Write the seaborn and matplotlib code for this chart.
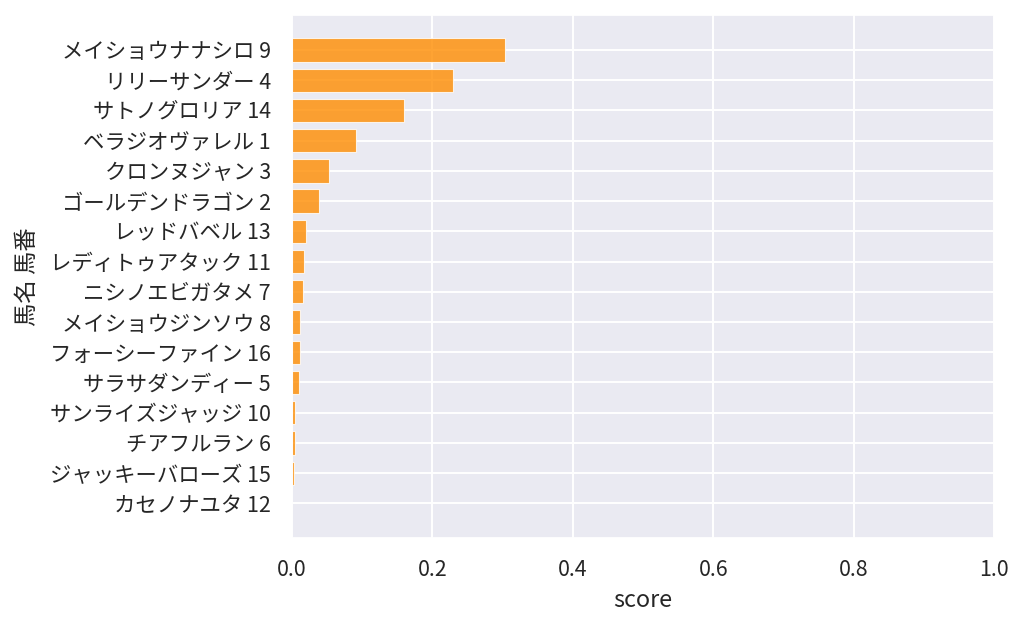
import matplotlib
matplotlib.use("Agg")
import matplotlib.pyplot as plt
import seaborn as sns
import pandas as pd

names = ["メイショウナナシロ", "リリーサンダー", "サトノグロリア", "ベラジオヴァレル",
         "クロンヌジャン", "ゴールデンドラゴン", "レッドバベル", "レディトゥアタック",
         "ニシノエビガタメ", "メイショウジンソウ", "フォーシーファイン", "サラサダンディー",
         "サンライズジャッジ", "チアフルラン", "ジャッキーバローズ", "カセノナユタ"]
numbers = [9, 4, 14, 1, 3, 2, 13, 11, 7, 8, 16, 5, 10, 6, 15, 12]
scores = [0.303, 0.230, 0.159, 0.091, 0.053, 0.038, 0.020, 0.017,
          0.016, 0.012, 0.011, 0.010, 0.005, 0.0045, 0.0035, 0.0003]

sns.set_theme(style="darkgrid", rc={"grid.linewidth": 1.4})
plt.rcParams["font.family"] = ["Noto Sans CJK JP", "DejaVu Sans"]

labels = [f"{n} {k}" for n, k in zip(names, numbers)]
df = pd.DataFrame({"馬名 馬番": labels, "score": scores})

fig = plt.figure(figsize=(10.24, 6.27), dpi=100)
ax = fig.add_axes([0.285, 0.1415, 0.686, 0.8345])
sns.barplot(data=df, x="score", y="馬名 馬番", color="darkorange", saturation=1,
            alpha=0.8, edgecolor=(1, 1, 1, 0.5), linewidth=0.8, width=0.77, ax=ax)
ax.set_axisbelow(True)
ax.xaxis.grid(True)
ax.yaxis.grid(True)
ax.set_xlim(0, 1)
ax.set_ylim(len(labels) - 1 + 1.155, -1.155)
ax.tick_params(axis="both", labelsize=15.4, pad=9)
ax.set_xlabel("score", fontsize=16.8, labelpad=6)
ax.set_ylabel("馬名 馬番", fontsize=16.8, labelpad=8)
fig.savefig("out.png", dpi=100)
